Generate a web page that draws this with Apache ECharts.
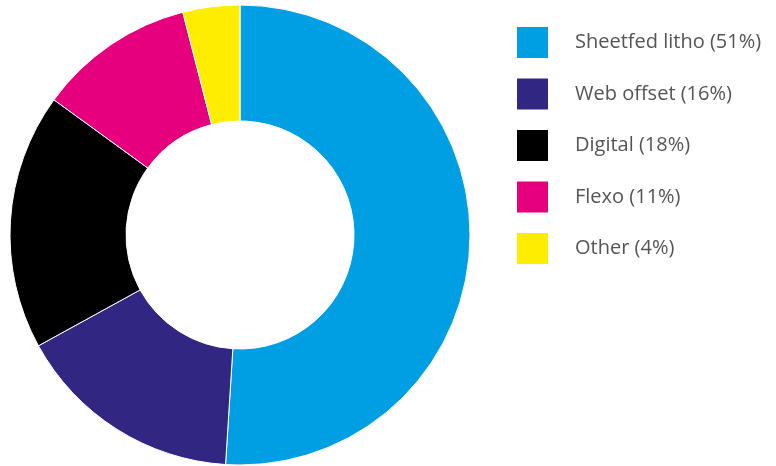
<!DOCTYPE html>
<html>
<head>
<meta charset="utf-8">
<script src="https://cdn.jsdelivr.net/npm/echarts@6/dist/echarts.min.js"></script>
<style>
  html, body { margin: 0; padding: 0; background: #ffffff; }
  #chart { width: 776px; height: 466px; }
</style>
</head>
<body>
<div id="chart"></div>
<script>
// Print processes share
const categories = ['Sheetfed litho', 'Web offset', 'Digital', 'Flexo', 'Other'];
const shares = [51, 16, 18, 11, 4];
const colors = ['#009FE3', '#312783', '#000000', '#E6007E', '#FFED00'];

const chart = echarts.init(document.getElementById('chart'), null, { renderer: 'canvas' });

const pieData = categories.map((name, i) => ({
  name: name,
  value: shares[i],
  itemStyle: { color: colors[i] }
}));

chart.setOption({
  animation: false,
  legend: {
    orient: 'vertical',
    left: 517,
    top: 27,
    padding: 0,
    itemWidth: 31,
    itemHeight: 31,
    itemGap: 20.5,
    icon: 'rect',
    selectedMode: false,
    itemStyle: { borderWidth: 0 },
    formatter: function (name) {
      const i = categories.indexOf(name);
      return name + ' (' + shares[i] + '%)';
    },
    textStyle: {
      fontFamily: 'Open Sans',
      fontSize: 20,
      color: '#555555',
      padding: [0, 0, 0, 22]
    },
    data: categories
  },
  series: [{
    type: 'pie',
    center: [240, 235],
    radius: [114, 230],
    startAngle: 90,
    clockwise: true,
    avoidLabelOverlap: false,
    label: { show: false },
    labelLine: { show: false },
    emphasis: { disabled: true },
    itemStyle: { borderColor: '#ffffff', borderWidth: 1 },
    data: pieData
  }]
});
</script>
</body>
</html>
